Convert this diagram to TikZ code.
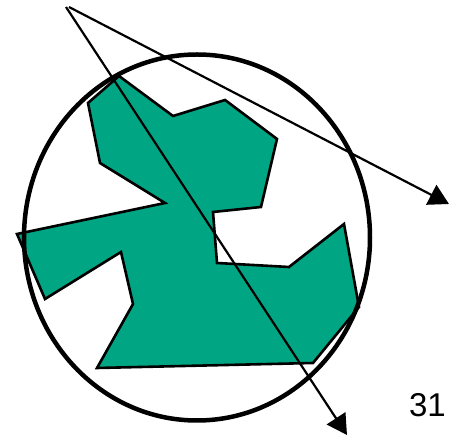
\documentclass[tikz,border=0pt]{standalone}
\usepackage{fontspec}
\setmainfont{Liberation Sans}
\usepackage{tikz}
\usetikzlibrary{arrows.meta}
\definecolor{blobgreen}{RGB}{0,165,132}

\begin{document}
\begin{tikzpicture}[
  x=1pt, y=-1pt,
  blob/.style={fill=blobgreen, draw=black, line width=2.6pt, line join=miter},
  rim/.style={draw=black, line width=4.5pt},
  ray/.style={draw=black, line width=2.2pt, -{Triangle[length=20pt, width=22pt]}},
  pagenum/.style={font=\fontsize{33}{38}\selectfont, inner sep=0pt},
]
\useasboundingbox (0,0) rectangle (459,435);

% green region
\draw[blob] (119,76) -- (173,116) -- (225,100) -- (277,139) -- (261,207)
  -- (213,212) -- (217,263) -- (289,267) -- (344,224) -- (359,307)
  -- (313,363) -- (97,368) -- (133,304) -- (121,252) -- (45,299)
  -- (17,234) -- (165,203) -- (100,163) -- (88,103) -- cycle;

% the disc
\draw[rim] (197,237.5) ellipse [x radius=173pt, y radius=183pt];

% rays
\coordinate (apexA) at (66,7);
\coordinate (apexB) at (69,7);
\coordinate (tipA) at (347,435);
\coordinate (tipB) at (449,204);
\draw[ray] (apexA) -- (tipA);
\draw[ray] (apexB) -- (tipB);

\node[pagenum] (num) at (427.5,405) {31};
\end{tikzpicture}
\end{document}
